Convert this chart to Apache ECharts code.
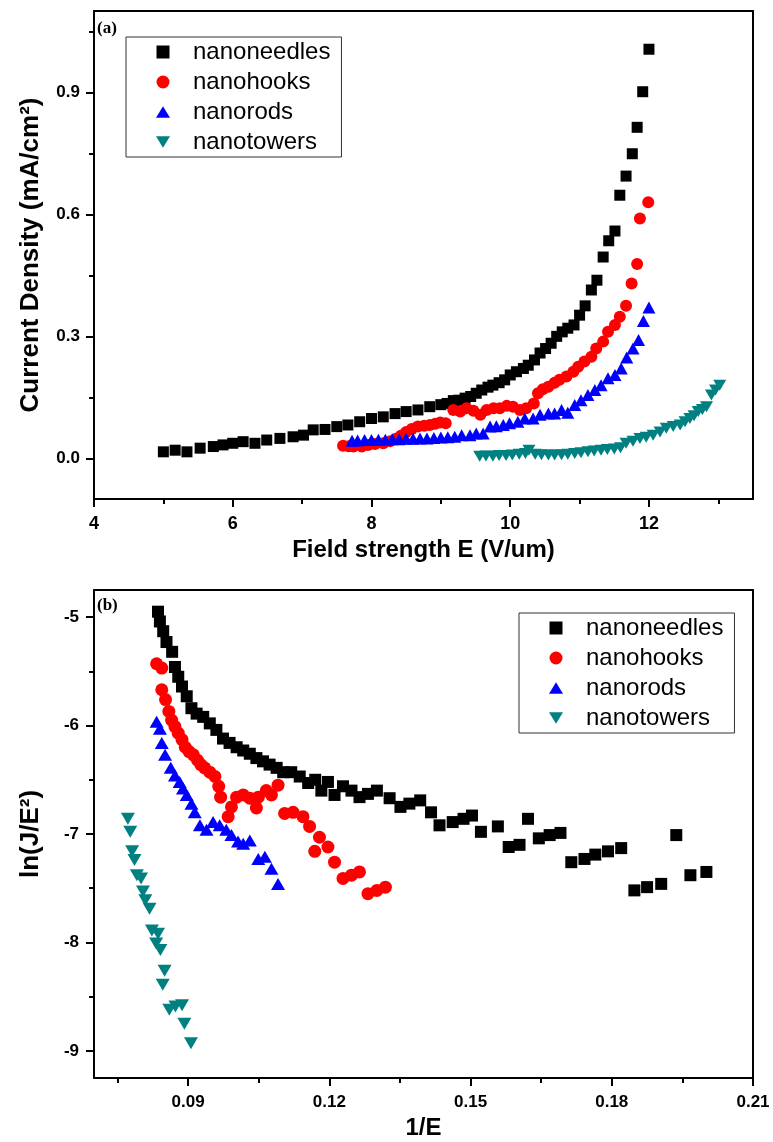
<!DOCTYPE html>
<html>
<head>
<meta charset="utf-8">
<script src="https://cdn.jsdelivr.net/npm/echarts@6/dist/echarts.min.js"></script>
<style>html,body{margin:0;padding:0;background:#fff}#c{width:773px;height:1142px}</style>
</head>
<body>
<div id="c"></div>
<script>
// ---------- Panel (a): Current density vs field ----------
const seriesNames = ['nanoneedles', 'nanohooks', 'nanorods', 'nanotowers'];

const aNeedlesE = [5.0,5.17,5.34,5.53,5.72,5.86,6.0,6.15,6.32,6.49,6.68,6.87,7.02,7.16,7.33,7.5,7.66,7.83,8.0,8.17,8.34,8.5,8.67,8.84,9.0,9.09,9.18,9.26,9.35,9.43,9.51,9.59,9.68,9.75,9.84,9.92,10.0,10.09,10.19,10.26,10.35,10.43,10.51,10.59,10.67,10.75,10.83,10.92,11.0,11.08,11.17,11.25,11.34,11.42,11.51,11.58,11.67,11.76,11.83,11.91,12.0];
const aNeedlesJ = [0.016,0.02,0.016,0.025,0.029,0.033,0.037,0.041,0.037,0.045,0.049,0.053,0.057,0.07,0.071,0.078,0.082,0.09,0.098,0.102,0.11,0.115,0.119,0.127,0.132,0.135,0.142,0.143,0.148,0.152,0.16,0.168,0.175,0.18,0.186,0.193,0.205,0.213,0.221,0.229,0.242,0.259,0.27,0.283,0.3,0.311,0.32,0.328,0.352,0.375,0.414,0.438,0.495,0.535,0.559,0.647,0.694,0.749,0.814,0.9015,1.006];

const aHooksE = [7.59,7.67,7.74,7.86,7.95,8.05,8.17,8.27,8.36,8.43,8.5,8.58,8.67,8.76,8.84,8.92,8.99,9.07,9.18,9.28,9.37,9.47,9.57,9.66,9.76,9.85,9.95,10.04,10.14,10.23,10.34,10.4,10.47,10.55,10.64,10.71,10.81,10.91,10.98,11.07,11.17,11.24,11.34,11.41,11.51,11.58,11.67,11.75,11.83,11.87,11.99];
const aHooksJ = [0.031,0.03,0.029,0.029,0.033,0.035,0.037,0.042,0.049,0.056,0.065,0.072,0.078,0.08,0.082,0.085,0.088,0.086,0.119,0.115,0.123,0.117,0.107,0.119,0.123,0.123,0.129,0.127,0.119,0.123,0.135,0.16,0.17,0.176,0.186,0.193,0.201,0.213,0.225,0.238,0.25,0.27,0.287,0.311,0.328,0.348,0.375,0.43,0.478,0.59,0.63];

const aRodsE = [7.72,7.8,7.9,8.0,8.1,8.2,8.3,8.4,8.5,8.6,8.7,8.8,8.9,9.0,9.1,9.2,9.3,9.42,9.51,9.61,9.71,9.8,9.9,9.99,10.11,10.21,10.33,10.43,10.55,10.64,10.74,10.83,10.93,11.02,11.12,11.22,11.31,11.41,11.51,11.6,11.68,11.77,11.85,11.92,12.0];
const aRodsJ = [0.043,0.044,0.045,0.045,0.046,0.046,0.047,0.047,0.048,0.048,0.049,0.049,0.05,0.051,0.052,0.053,0.057,0.057,0.061,0.061,0.078,0.079,0.082,0.086,0.09,0.098,0.098,0.107,0.11,0.11,0.119,0.112,0.131,0.143,0.156,0.168,0.18,0.197,0.205,0.221,0.248,0.27,0.291,0.338,0.371];

const aTowersE = [9.56,9.65,9.75,9.84,9.94,10.03,10.13,10.22,10.27,10.36,10.45,10.55,10.64,10.74,10.83,10.93,11.02,11.12,11.21,11.31,11.4,11.5,11.59,11.67,11.77,11.87,11.96,12.06,12.16,12.25,12.35,12.45,12.52,12.59,12.65,12.71,12.77,12.83,12.9,12.96,13.02];
const aTowersJ = [0.005,0.006,0.005,0.007,0.007,0.008,0.01,0.012,0.02,0.01,0.009,0.008,0.008,0.009,0.01,0.012,0.014,0.016,0.018,0.02,0.022,0.023,0.026,0.037,0.042,0.049,0.052,0.057,0.065,0.074,0.078,0.082,0.09,0.098,0.105,0.115,0.12,0.127,0.156,0.168,0.18];

// ---------- Panel (b): ln(J/E^2) vs 1/E ----------
const bNeedlesX = [0.0836,0.084,0.0847,0.0854,0.0866,0.0872,0.0879,0.0887,0.0897,0.0907,0.0918,0.0932,0.0946,0.096,0.0974,0.0988,0.1003,0.1017,0.1031,0.1045,0.1059,0.1073,0.1088,0.1102,0.1119,0.1137,0.1155,0.117,0.1183,0.1197,0.1211,0.1229,0.1247,0.1264,0.1282,0.1301,0.1328,0.1351,0.137,0.1393,0.1416,0.1434,0.1462,0.1485,0.1503,0.1522,0.1558,0.1581,0.1604,0.1622,0.1645,0.1668,0.1691,0.1714,0.1742,0.1765,0.1792,0.182,0.1848,0.1875,0.1905,0.1937,0.1967,0.2001];
const bNeedlesY = [-4.95,-5.04,-5.13,-5.23,-5.32,-5.46,-5.55,-5.64,-5.73,-5.84,-5.89,-5.92,-5.98,-6.04,-6.12,-6.16,-6.2,-6.23,-6.26,-6.3,-6.33,-6.36,-6.39,-6.43,-6.43,-6.47,-6.53,-6.5,-6.6,-6.52,-6.64,-6.56,-6.6,-6.66,-6.63,-6.6,-6.67,-6.75,-6.72,-6.69,-6.8,-6.92,-6.89,-6.86,-6.83,-6.98,-6.93,-7.12,-7.1,-6.86,-7.04,-7.01,-6.99,-7.26,-7.23,-7.19,-7.16,-7.13,-7.52,-7.49,-7.46,-7.01,-7.38,-7.35];

const bHooksX = [0.0833,0.0844,0.0844,0.0852,0.0859,0.0865,0.0872,0.0879,0.0887,0.0894,0.0902,0.0911,0.092,0.0927,0.0935,0.0946,0.0957,0.0965,0.0969,0.0985,0.0992,0.1003,0.1017,0.1031,0.1045,0.1049,0.1066,0.1077,0.1091,0.1105,0.1123,0.1144,0.1158,0.1179,0.1169,0.1197,0.1211,0.1229,0.1247,0.1264,0.1282,0.1301,0.1319];
const bHooksY = [-5.43,-5.47,-5.67,-5.76,-5.87,-5.95,-6.01,-6.07,-6.13,-6.2,-6.24,-6.27,-6.32,-6.36,-6.39,-6.43,-6.47,-6.56,-6.66,-6.84,-6.75,-6.66,-6.64,-6.67,-6.76,-6.66,-6.6,-6.64,-6.55,-6.81,-6.8,-6.84,-6.93,-7.03,-7.16,-7.12,-7.26,-7.41,-7.38,-7.35,-7.55,-7.52,-7.49];

const bRodsX = [0.0833,0.084,0.0844,0.0851,0.0863,0.0872,0.0882,0.0889,0.0897,0.0907,0.0914,0.0925,0.0939,0.0953,0.0967,0.0981,0.0992,0.1006,0.1017,0.1031,0.1049,0.1063,0.1077,0.1091];
const bRodsY = [-5.965,-6.03,-6.16,-6.27,-6.39,-6.46,-6.52,-6.58,-6.64,-6.72,-6.8,-6.92,-6.96,-6.89,-6.92,-6.96,-7.01,-7.07,-7.09,-7.06,-7.23,-7.21,-7.32,-7.46];

const bTowersX = [0.0772,0.0777,0.0781,0.0786,0.0791,0.08,0.0804,0.0809,0.0818,0.0823,0.0836,0.0832,0.0841,0.085,0.0846,0.086,0.0873,0.0887,0.0892,0.0906];
const bTowersY = [-6.86,-6.98,-7.16,-7.24,-7.38,-7.41,-7.53,-7.61,-7.69,-7.89,-7.92,-8.01,-8.07,-8.26,-8.39,-8.62,-8.59,-8.58,-8.75,-8.93];

// ---------- Tick values ----------
const aXTicks = [4, 6, 8, 10, 12];
const aXMinorTicks = [5, 7, 9, 11, 13];
const aYTicks = [0, 0.3, 0.6, 0.9];
const aYMinorTicks = [0.15, 0.45, 0.75, 1.05];
const bXTicks = [0.09, 0.12, 0.15, 0.18, 0.21];
const bXMinorTicks = [0.075, 0.105, 0.135, 0.165, 0.195];
const bYTicks = [-9, -8, -7, -6, -5];
const bYMinorTicks = [-8.5, -7.5, -6.5, -5.5];

const COLORS = ['#000000', '#ff0000', '#0000ff', '#008080'];
const SANS = "'Liberation Sans', Arial, sans-serif";
const SQUARE = 'path://M0,0 L10,0 L10,10 L0,10 Z';
const UP_TRI = 'path://M6,0 L12,10 L0,10 Z';
const DOWN_TRI = 'path://M0,0 L12,0 L6,10 Z';
const SYMBOLS = ['rect', 'circle', 'triangle', DOWN_TRI];
const LEGEND_ICONS = [SQUARE, 'circle', UP_TRI, DOWN_TRI];
const SIZES_A = [11, 12, [13, 12], [13, 11]];
const SIZES_B = [12, 13, [14, 12], [14, 12]];

function zip(xs, ys) { return xs.map((x, i) => [x, ys[i]]); }

function axisTriple(dim, grid, min, max, major, minor, fmt, labelSize, margin, name, nameGap, nameSize) {
  const mainPos = dim === 'x' ? 'bottom' : 'left';
  const oppPos = dim === 'x' ? 'top' : 'right';
  const line = { color: '#000', width: 2 };
  return [
    {
      gridIndex: grid, type: 'value', min: min, max: max, position: mainPos,
      axisLine: { show: true, onZero: false, lineStyle: line },
      axisTick: { show: true, inside: false, length: 8, lineStyle: line, customValues: major },
      axisLabel: { show: true, customValues: major, formatter: fmt, fontSize: labelSize, fontWeight: 'bold', color: '#000', fontFamily: SANS, margin: margin },
      splitLine: { show: false },
      name: name, nameLocation: 'middle', nameGap: nameGap,
      nameTextStyle: { fontSize: nameSize, fontWeight: 'bold', color: '#000', fontFamily: SANS }
    },
    {
      gridIndex: grid, type: 'value', min: min, max: max, position: mainPos,
      axisLine: { show: false, onZero: false },
      axisTick: { show: true, inside: false, length: 5, lineStyle: line, customValues: minor },
      axisLabel: { show: false },
      splitLine: { show: false }
    },
    {
      gridIndex: grid, type: 'value', min: min, max: max, position: oppPos,
      axisLine: { show: true, onZero: false, lineStyle: line },
      axisTick: { show: false }, axisLabel: { show: false }, splitLine: { show: false }
    }
  ];
}

const xAxes = [].concat(
  axisTriple('x', 0, 4, 13.5, aXTicks, aXMinorTicks, v => String(v), 18, 16, 'Field strength E (V/um)', 39, 24),
  axisTriple('x', 1, 0.07, 0.21, bXTicks, bXMinorTicks, v => v.toFixed(2), 17, 16, '1/E', 38, 24)
);
const yAxes = [].concat(
  axisTriple('y', 0, -0.1, 1.1, aYTicks, aYMinorTicks, v => v.toFixed(1), 17, 14, 'Current Density (mA/cm²)', 50, 26),
  axisTriple('y', 1, -9.25, -4.75, bYTicks, bYMinorTicks, v => String(Math.round(v)), 17, 15, 'ln(J/E²)', 50, 26)
);

const aData = [zip(aNeedlesE, aNeedlesJ), zip(aHooksE, aHooksJ), zip(aRodsE, aRodsJ), zip(aTowersE, aTowersJ)];
const bData = [zip(bNeedlesX, bNeedlesY), zip(bHooksX, bHooksY), zip(bRodsX, bRodsY), zip(bTowersX, bTowersY)];

const series = [];
seriesNames.forEach((n, i) => {
  series.push({ type: 'scatter', name: n, xAxisIndex: 0, yAxisIndex: 0, data: aData[i], symbol: SYMBOLS[i], symbolSize: SIZES_A[i], itemStyle: { color: COLORS[i], opacity: 1 }, silent: true, animation: false, z: 3 });
});
seriesNames.forEach((n, i) => {
  series.push({ type: 'scatter', name: n, xAxisIndex: 3, yAxisIndex: 3, data: bData[i], symbol: SYMBOLS[i], symbolSize: SIZES_B[i], itemStyle: { color: COLORS[i], opacity: 1 }, silent: true, animation: false, z: 3 });
});

function legendAt(left, top) {
  return {
    orient: 'vertical', left: left, top: top, selectedMode: false,
    data: seriesNames.map((n, i) => ({ name: n, icon: LEGEND_ICONS[i] })),
    itemWidth: 14, itemHeight: 13, itemGap: 6,
    padding: [3, 11, 3, 30],
    borderColor: '#333', borderWidth: 1, backgroundColor: '#fff',
    textStyle: { fontSize: 24, color: '#000', fontFamily: SANS, lineHeight: 22, padding: [0, 0, 0, 18] }
  };
}

const chart = echarts.init(document.getElementById('c'), null, { renderer: 'canvas' });
chart.setOption({
  animation: false,
  backgroundColor: '#fff',
  grid: [
    { left: 94, top: 11, width: 659, height: 488 },
    { left: 94, top: 590, width: 659, height: 488 }
  ],
  xAxis: xAxes,
  yAxis: yAxes,
  legend: [legendAt(126, 37), legendAt(519, 613)],
  graphic: [
    { type: 'text', left: 97, top: 20, style: { text: '(a)', font: "bold 17px 'Liberation Serif', 'Times New Roman', serif", fill: '#000' } },
    { type: 'text', left: 97, top: 597, style: { text: '(b)', font: "bold 17px 'Liberation Serif', 'Times New Roman', serif", fill: '#000' } }
  ],
  series: series
});
</script>
</body>
</html>
